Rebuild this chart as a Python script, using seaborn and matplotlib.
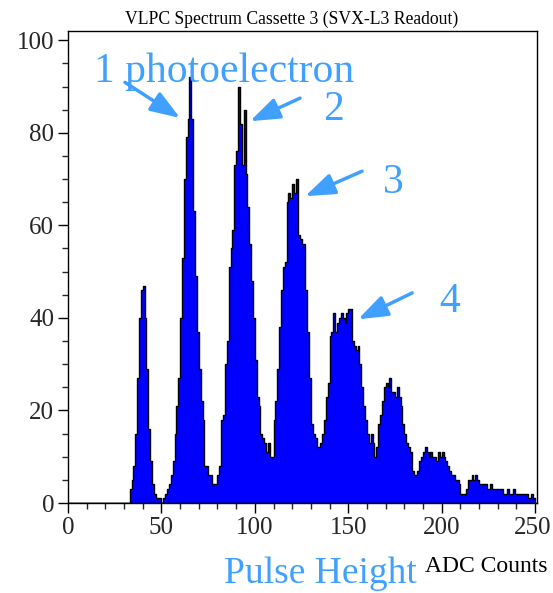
import numpy as np
import pandas as pd
import matplotlib
matplotlib.use("Agg")
import matplotlib.pyplot as plt
import matplotlib.transforms as mtransforms
from matplotlib.ticker import MultipleLocator
import seaborn as sns

# ADC channel counts, one bin per ADC count from 0 to 249
counts = [
    0, 0, 0, 0, 0, 0, 0, 0, 0, 0,
    0, 0, 0, 0, 0, 0, 0, 0, 0, 0,
    0, 0, 0, 0, 0, 0, 0, 0, 0, 0,
    0, 0, 0, 3, 5, 8, 15, 27, 40, 46,
    47, 40, 29, 16, 9, 4, 2, 1, 1, 1,
    0, 1, 2, 3, 4, 6, 9, 15, 21, 27,
    40, 53, 70, 79, 83, 92, 83, 63, 49, 37,
    29, 22, 18, 8, 8, 6, 6, 4, 4, 4,
    6, 8, 18, 19, 30, 35, 51, 55, 59, 73,
    76, 90, 82, 73, 85, 71, 64, 56, 48, 40,
    31, 23, 21, 15, 14, 13, 11, 13, 10, 10,
    18, 22, 29, 38, 46, 51, 52, 65, 67, 66,
    69, 67, 70, 58, 57, 56, 56, 46, 37, 27,
    17, 15, 14, 12, 12, 13, 15, 18, 23, 26,
    36, 37, 41, 37, 39, 40, 41, 40, 39, 41,
    42, 42, 35, 34, 33, 34, 30, 25, 21, 18,
    15, 13, 15, 13, 10, 12, 17, 19, 22, 25,
    26, 25, 27, 24, 24, 23, 25, 23, 21, 17,
    15, 13, 12, 11, 7, 6, 6, 7, 9, 10,
    11, 12, 11, 10, 11, 10, 10, 9, 11, 10,
    11, 10, 9, 8, 7, 6, 6, 5, 5, 4,
    2, 2, 2, 3, 5, 5, 6, 5, 6, 5,
    4, 4, 4, 4, 3, 3, 4, 3, 3, 3,
    3, 3, 3, 2, 2, 3, 2, 2, 3, 2,
    2, 2, 2, 2, 2, 2, 1, 1, 2, 1,
]
adc_channel = np.arange(len(counts)) + 0.5

# Photoelectron peak labels: text, text position, arrow tail, arrow head (ADC, counts)
peak_labels = ["1 photoelectron", "2", "3", "4"]
label_pos = [(83.5, 90.9), (141.9, 82.7), (174.0, 67.0), (204.0, 41.3)]
arrow_tail = [(30.5, 90.9), (124.2, 87.5), (157.4, 71.7), (184.2, 45.4)]
arrow_head = [(60.0, 83.2), (97.4, 82.5), (126.9, 66.3), (155.2, 39.7)]

df = pd.DataFrame({"adc": adc_channel, "entries": counts})

sns.set_style("ticks")
plt.rcParams["font.family"] = ["Liberation Serif", "DejaVu Serif"]

fig = plt.figure(figsize=(5.53, 5.93), dpi=100)
ax = fig.add_axes([68 / 553, 1 - 503 / 593, 469 / 553, 472 / 593])

sns.histplot(data=df, x="adc", weights="entries", binwidth=1, binrange=(0, 250),
             element="step", fill=True, color="#0000ff", alpha=1.0,
             edgecolor="black", linewidth=1.0, ax=ax)

ax.set_xlim(0, 251)
ax.set_ylim(0, 102)
ax.set_xlabel("")
ax.set_ylabel("")
ax.xaxis.set_major_locator(MultipleLocator(50))
ax.xaxis.set_minor_locator(MultipleLocator(10))
ax.yaxis.set_major_locator(MultipleLocator(20))
ax.yaxis.set_minor_locator(MultipleLocator(5))
ax.tick_params(axis="both", which="major", length=7, width=1, labelsize=18,
               direction="out", color="black")
ax.tick_params(axis="both", which="minor", length=4, width=1, direction="out")
ax.tick_params(axis="x", which="major", pad=3)
ax.tick_params(axis="y", which="major", pad=3)
for side in ["left", "right", "top", "bottom"]:
    ax.spines[side].set_visible(True)
    ax.spines[side].set_color("black")
    ax.spines[side].set_linewidth(1.0)

# keep the last x tick label inside the canvas
fig.canvas.draw()
last = [t for t in ax.get_xticklabels() if t.get_text() == "250"]
for t in last:
    t.set_transform(t.get_transform() +
                    mtransforms.ScaledTranslation(-3 / 100, 0, fig.dpi_scale_trans))

label_blue = "#40a0ff"
for text, pos, tail, head in zip(peak_labels, label_pos, arrow_tail, arrow_head):
    ax.text(pos[0], pos[1], text, color=label_blue, fontsize=30,
            ha="center", va="baseline")
    ax.annotate("", xy=head, xytext=tail,
                arrowprops=dict(arrowstyle="-|>,head_length=1.8,head_width=0.65",
                                color=label_blue, lw=2.5, shrinkA=0, shrinkB=0))

fig.text(292 / 553, 1 - 24 / 593, "VLPC Spectrum Cassette 3 (SVX-L3 Readout)",
         ha="center", va="baseline", fontsize=12.7, color="black")
fig.text(320 / 553, 1 - 583 / 593, "Pulse Height", ha="center", va="baseline",
         fontsize=27, color=label_blue)
fig.text(486 / 553, 1 - 572 / 593, "ADC Counts", ha="center", va="baseline",
         fontsize=17, color="black")

fig.savefig("out.png", dpi=100)
